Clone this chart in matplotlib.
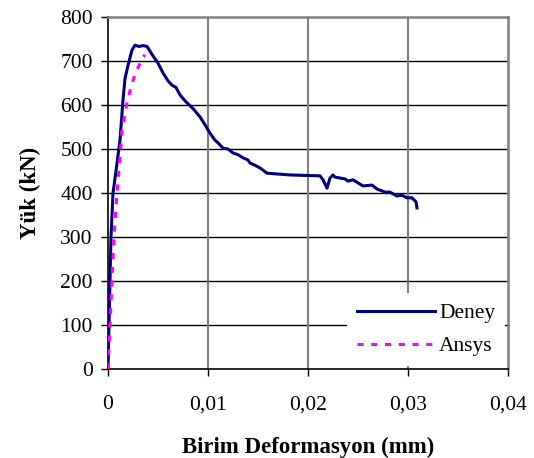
import matplotlib
matplotlib.use("Agg")
import matplotlib.pyplot as plt

deney_x = [0, 0.0001, 0.0002, 0.0003, 0.0005, 0.0008, 0.0012, 0.0015, 0.0017, 0.0020, 0.0024,
           0.0027, 0.0031, 0.0035, 0.0039, 0.0044, 0.0050, 0.0055, 0.0060, 0.0064, 0.0068, 0.0072,
           0.0076, 0.0079, 0.0085, 0.0092, 0.0097, 0.0102, 0.0107, 0.0110, 0.0115, 0.0120, 0.0125,
           0.0130, 0.0135, 0.0140, 0.0142, 0.0147, 0.0152, 0.0159, 0.0182, 0.0212, 0.0215,
           0.0219, 0.0222, 0.0225, 0.0227, 0.0232, 0.0237, 0.0240, 0.0245, 0.0250, 0.0255, 0.0264,
           0.0269, 0.0277, 0.0282, 0.0289, 0.0294, 0.0299, 0.0304, 0.0308, 0.0309]
deney_y = [0, 100, 200, 300, 400, 450, 520, 611, 660, 690, 725,
           736, 733, 735, 733, 715, 695, 673, 655, 645, 640, 623,
           612, 605, 592, 573, 555, 536, 520, 514, 502, 500, 491,
           487, 480, 475, 468, 463, 457, 445, 441, 439, 430,
           411, 434, 441, 436, 434, 432, 427, 430, 423, 416, 418,
           409, 402, 402, 393, 395, 389, 389, 380, 366]

ansys_x = [0, 0.0002, 0.0004, 0.0006, 0.0009, 0.0012, 0.0014, 0.0019, 0.0024, 0.0029, 0.0035, 0.0037]
ansys_y = [0, 100, 200, 300, 400, 480, 543, 605, 650, 680, 709, 714]

x_ticks = [0, 0.01, 0.02, 0.03, 0.04]
x_labels = ["0", "0,01", "0,02", "0,03", "0,04"]
y_ticks = [0, 100, 200, 300, 400, 500, 600, 700, 800]

plt.rcParams['font.family'] = ['Liberation Serif', 'DejaVu Serif']

fig = plt.figure(figsize=(5.34, 4.58), dpi=100)
ax = fig.add_axes([108/534, 89/458, 400/534, 352/458])

for yv in y_ticks[1:-1]:
    ax.axhline(yv, color='black', lw=1.0, zorder=1)
for xv in x_ticks[1:4]:
    ax.axvline(xv, color='#808080', lw=1.5, zorder=1)

ax.plot(deney_x, deney_y, color='#000080', lw=2.2, label='Deney', zorder=3)
ax.plot(ansys_x, ansys_y, color='#ff00ff', lw=2.2, ls=(0, (2, 2.5)), label='Ansys', zorder=4)

ax.set_xlim(0, 0.04)
ax.set_ylim(0, 800)
ax.set_xticks(x_ticks)
ax.set_xticklabels(x_labels)
ax.set_yticks(y_ticks)
ax.tick_params(axis='both', labelsize=15.5, direction='out', length=5, width=1, colors='black')
ax.tick_params(axis='x', pad=14)
ax.tick_params(axis='y', pad=6)

ax.spines['top'].set_color('#808080')
ax.spines['top'].set_linewidth(1.8)
ax.spines['right'].set_color('#808080')
ax.spines['right'].set_linewidth(1.8)
ax.spines['left'].set_linewidth(1.2)
ax.spines['bottom'].set_linewidth(1.2)

ax.set_xlabel('Birim Deformasyon (mm)', fontsize=16.5, fontweight='bold', labelpad=16)
ax.set_ylabel('Yük (kN)', fontsize=16.5, fontweight='bold', labelpad=14)

leg = ax.legend(loc='lower right', fontsize=15.5, frameon=True, fancybox=False,
                edgecolor='white', facecolor='white', framealpha=1,
                handlelength=3.6, handletextpad=0.2, borderaxespad=0.15,
                labelspacing=0.6, borderpad=0.45)
leg.get_frame().set_linewidth(0)
leg.set_zorder(5)

fig.savefig('out.png', dpi=100)
